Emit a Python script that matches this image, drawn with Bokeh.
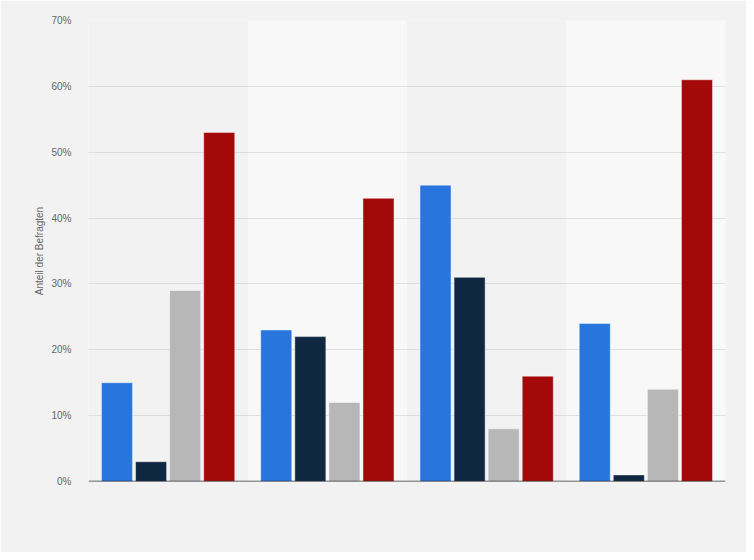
from bokeh.plotting import figure
from bokeh.models import Range1d, FixedTicker, PrintfTickFormatter, BoxAnnotation, Span, ColumnDataSource
from bokeh.transform import dodge
from bokeh.embed import file_html
from bokeh.resources import INLINE

# data
groups = [0.5, 1.5, 2.5, 3.5]          # group centres (no visible category labels)
series_1 = [15, 23, 45, 24]            # blue
series_2 = [3, 22, 31, 1]              # navy
series_3 = [29, 12, 8, 14]             # grey
series_4 = [53, 43, 16, 61]            # red
y_ticks = [0, 10, 20, 30, 40, 50, 60, 70]
y_label = "Anteil der Befragten"

colors = ["#2876dd", "#0f2741", "#b7b7b7", "#a30909"]
offsets = [-0.321, -0.107, 0.107, 0.321]

source = ColumnDataSource(data=dict(x=groups, s1=series_1, s2=series_2, s3=series_3, s4=series_4))

p = figure(width=746, height=552, output_backend="svg", toolbar_location=None,
           x_range=Range1d(0, 4), y_range=Range1d(0, 70),
           min_border_left=88, min_border_right=21, min_border_top=20, min_border_bottom=71)

p.background_fill_color = "#f2f2f2"
p.border_fill_color = "#f2f2f2"
p.outline_line_color = None

# alternating bands
for l, r in [(1, 2), (3, 4)]:
    p.add_layout(BoxAnnotation(left=l, right=r, fill_color="#f8f8f8", fill_alpha=1.0,
                               line_color=None, level="image"))

for col, c, off in zip(["s1", "s2", "s3", "s4"], colors, offsets):
    p.vbar(x=dodge("x", off, range=p.x_range), top=col, width=0.195, bottom=0,
           source=source, fill_color=c, line_color="white", line_alpha=0.45, line_width=1)

p.add_layout(Span(location=0, dimension="width", line_color="#333333", line_width=1.5))

p.xaxis.visible = False
p.xgrid.visible = False

p.ygrid.grid_line_color = "#c8c8c8"
p.ygrid.grid_line_dash = "1 1"
p.ygrid.grid_line_width = 1

ya = p.yaxis[0]
ya.ticker = FixedTicker(ticks=y_ticks)
ya.formatter = PrintfTickFormatter(format="%d%%")
ya.axis_line_color = None
ya.major_tick_line_color = None
ya.minor_tick_line_color = None
ya.major_label_text_font = "Liberation Sans"
ya.major_label_text_font_size = "10px"
ya.major_label_text_color = "#666666"
ya.major_label_standoff = 11
ya.axis_label = y_label
ya.axis_label_text_font = "Liberation Sans"
ya.axis_label_text_font_size = "10px"
ya.axis_label_text_font_style = "normal"
ya.axis_label_text_color = "#666666"
ya.axis_label_standoff = 3

open("out.html", "w").write(file_html(p, INLINE))
